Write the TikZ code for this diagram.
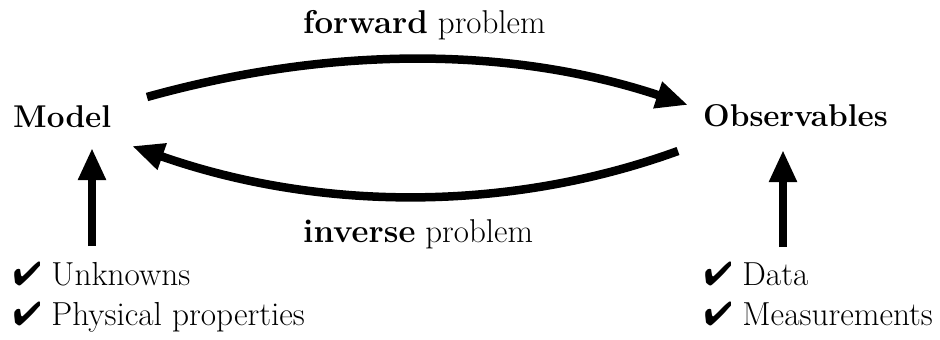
\documentclass[tikz,border=0pt]{standalone}
\usepackage{pifont}
\usetikzlibrary{arrows.meta}
\begin{document}
\begin{tikzpicture}[x=1pt,y=-1pt,
  lbl/.style={inner sep=0pt, anchor=base west, font=\fontsize{33}{31}\selectfont},
  head/.style={inner sep=0pt, anchor=base west, font=\fontsize{31.5}{31}\selectfont\bfseries},
  lst/.style={lbl, align=left, font=\fontsize{33.3}{40}\selectfont},
  arr/.style={line width=8.5pt, -{Triangle[length=32pt,width=26pt]}}]
\useasboundingbox (0,0) rectangle (940,340);
\node[head] (model) at (13,127) {Model};
\node[head] (obs) at (703,126) {Observables};
\node[lbl] (fwd) at (303,33) {\textbf{forward} problem};
\node[lbl] (inv) at (303,242) {\textbf{inverse} problem};
\node[lst] (listL) at (13,325) {\ding{52} Unknowns\\\ding{52} Physical properties};
\node[lst] (listR) at (704,325) {\ding{52} Data\\\ding{52} Measurements};
\coordinate (fS) at (147,97);
\coordinate (fE) at (688,105);
\coordinate (iS) at (678,151);
\coordinate (iE) at (132,146);
\coordinate (uL) at (92,246);
\coordinate (uLt) at (92,148);
\coordinate (uR) at (783,247);
\coordinate (uRt) at (783,150);
\draw[arr] (fS) .. controls (330,46) and (510,46) .. (fE);
\draw[arr] (iS) .. controls (510,212) and (320,212) .. (iE);
\draw[arr] (uL) -- (uLt);
\draw[arr] (uR) -- (uRt);
\end{tikzpicture}
\end{document}
